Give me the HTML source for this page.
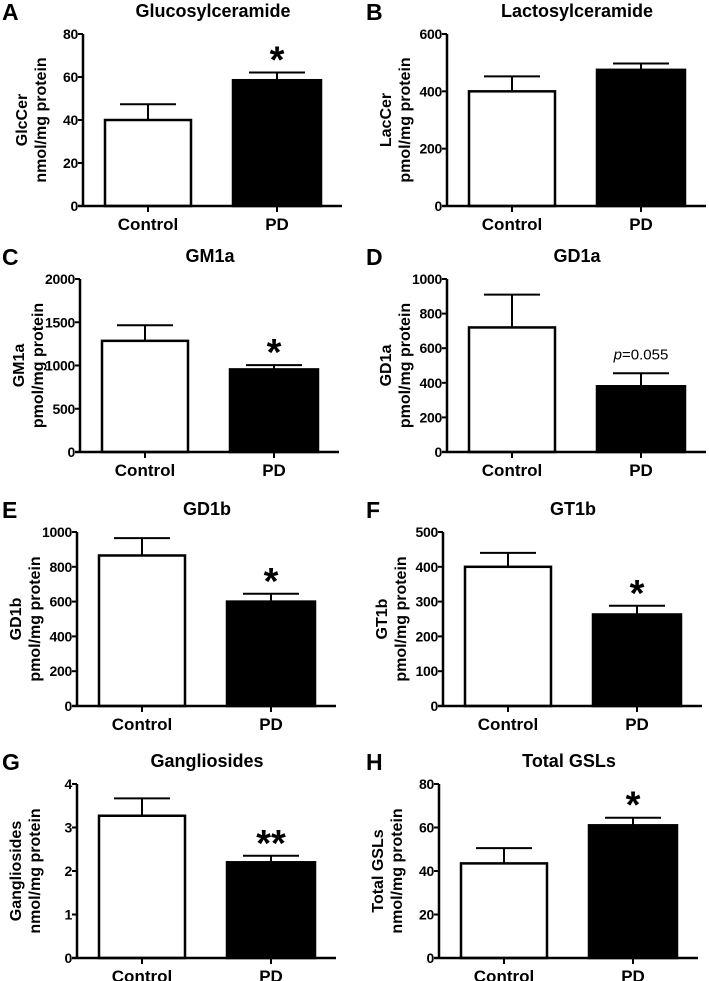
<!DOCTYPE html>
<html><head><meta charset="utf-8"><style>
html,body{margin:0;padding:0;background:#fff;}
svg{display:block;font-family:"Liberation Sans",Arial,sans-serif;font-weight:bold;}
</style></head><body>
<svg id="fig" width="709" height="981" viewBox="0 0 709 981" xmlns="http://www.w3.org/2000/svg"></svg>
<script>
const panelLetters = ["A","B","C","D","E","F","G","H"];
const panelTitles = ["Glucosylceramide","Lactosylceramide","GM1a","GD1a","GD1b","GT1b","Gangliosides","Total GSLs"];
const yTitle1 = ["GlcCer","LacCer","GM1a","GD1a","GD1b","GT1b","Gangliosides","Total GSLs"];
const yTitle2 = ["nmol/mg protein","pmol/mg protein","pmol/mg protein","pmol/mg protein","pmol/mg protein","pmol/mg protein","nmol/mg protein","nmol/mg protein"];
const categories = ["Control","PD"];
const controlMeans = [40,400,1285,720,865,400,3.27,43.5];
const controlErr = [7.3,52,180,190,100,40,0.4,7];
const pdMeans = [58.5,475,955,380,600,263,2.2,61];
const pdErr = [3.6,22,50,75,45,25,0.15,3.5];
const yMax = [80,600,2000,1000,1000,500,4,80];
const yStep = [20,200,500,200,200,100,1,20];
const sigLabels = ["*","","*","p=0.055","*","*","**","*"];

const svg = document.getElementById('fig');
const NS = 'http://www.w3.org/2000/svg';
function mk(tag, attrs, parent){const e=document.createElementNS(NS,tag);for(const k in attrs)e.setAttribute(k,attrs[k]);(parent||svg).appendChild(e);return e;}

const axisX = [83,447,80,447,77,443,77,439];
const rowTop = [34,279,532,784];
const rowZero = [206,452,706,958];

for(let i=0;i<8;i++){
  const ax=axisX[i], r=Math.floor(i/2), top=rowTop[r], zero=rowZero[r];
  const g=mk('g',{});
  
  
  const yS=v=>zero-(v/yMax[i])*(zero-top);
  const colX=i%2===0?0:364;
  const L=mk('text',{x:colX+2,y:top-14,'font-size':23},g);L.textContent=panelLetters[i];
  
  
  const T=mk('text',{x:ax+130,y:top-17,'font-size':18,'text-anchor':'middle'},g);T.textContent=panelTitles[i];
  
  
  const cy=(top+zero)/2;
  const t1=mk('text',{x:0,y:0,'font-size':16,'text-anchor':'middle',transform:`translate(${ax-56},${cy}) rotate(-90)`},g);t1.textContent=yTitle1[i];
  
  
  const t2=mk('text',{x:0,y:0,'font-size':16,'text-anchor':'middle',transform:`translate(${ax-37},${cy}) rotate(-90)`},g);t2.textContent=yTitle2[i];
  
  
  const bx=[ax+22,ax+150], bw=[86,88];
  const means=[controlMeans[i],pdMeans[i]], errs=[controlErr[i],pdErr[i]];
  for(let j=0;j<2;j++){
    const cx=bx[j]+bw[j]/2;
    const e1=mk('line',{x1:cx,x2:cx,y1:yS(means[j]),y2:yS(means[j]+errs[j]),stroke:'#000','stroke-width':2},g);
    
    
    const e2=mk('line',{x1:cx-28,x2:cx+28,y1:yS(means[j]+errs[j]),y2:yS(means[j]+errs[j]),stroke:'#000','stroke-width':2},g);
    
    
    const b=mk('rect',{x:bx[j],y:yS(means[j]),width:bw[j],height:zero-yS(means[j]),fill:j?'#000':'#fff',stroke:'#000','stroke-width':2.5},g);
    
    
    const c=mk('text',{x:cx,y:zero+24,'font-size':17,'text-anchor':'middle'},g);c.textContent=categories[j];
    
    
    mk('line',{x1:cx,x2:cx,y1:zero,y2:zero+6,stroke:'#000','stroke-width':2},g);
  }
  const ya=mk('line',{x1:ax,x2:ax,y1:top,y2:zero+1,stroke:'#000','stroke-width':2.5},g);
  
  
  const xa=mk('line',{x1:ax-5,x2:ax+259,y1:zero,y2:zero,stroke:'#000','stroke-width':2.5},g);
  
  
  for(let v=0;v<=yMax[i]+1e-9;v+=yStep[i]){
    const y=yS(v);
    mk('line',{x1:ax-5,x2:ax,y1:y,y2:y,stroke:'#000','stroke-width':2},g);
    const tl=mk('text',{x:ax-5,y:y+5,'font-size':14,'text-anchor':'end','letter-spacing':'-0.3'},g);tl.textContent=String(v);
    
    
  }
  if(sigLabels[i]){
    const cx=bx[1]+bw[1]/2, yTop=yS(pdMeans[i]+pdErr[i]);
    let s;
    if(sigLabels[i].startsWith('p=')){
      s=mk('text',{x:cx,y:yTop-14,'font-size':15,'font-weight':'normal','text-anchor':'middle'},g);
      const ts=mk('tspan',{'font-style':'italic'},s);ts.textContent='p';
      const ts2=mk('tspan',{},s);ts2.textContent=sigLabels[i].slice(1);
    } else {
      s=mk('text',{x:cx,y:yTop,'font-size':38,'text-anchor':'middle'},g);s.textContent=sigLabels[i];
    }
    
    
  }
}
</script>
</body></html>
